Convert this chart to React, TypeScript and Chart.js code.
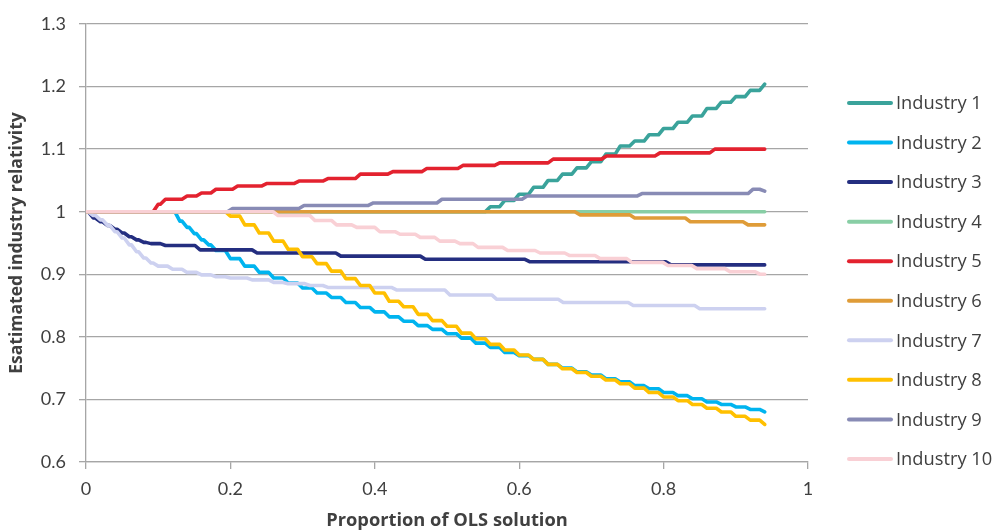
import React, { useEffect, useRef } from 'react';
import { Chart, registerables } from 'chart.js';

Chart.register(...registerables);

const seriesNames = [
  'Industry 1', 'Industry 2', 'Industry 3', 'Industry 4', 'Industry 5',
  'Industry 6', 'Industry 7', 'Industry 8', 'Industry 9', 'Industry 10',
];

const seriesColors = [
  '#3AA39B', '#00B4EF', '#242E80', '#88CEA5', '#E3222F',
  '#DF9C38', '#CDD1F0', '#FFC000', '#888BB5', '#F9D0D5',
];

const industry1: [number, number][] = [
  [0, 1], [0.54, 1], [0.56, 1.008], [0.58, 1.018], [0.6, 1.028], [0.62, 1.039],
  [0.64, 1.05], [0.66, 1.06], [0.68, 1.07], [0.7, 1.08], [0.72, 1.092], [0.74, 1.105],
  [0.76, 1.113], [0.78, 1.123], [0.8, 1.133], [0.82, 1.143], [0.84, 1.153], [0.86, 1.165],
  [0.88, 1.175], [0.9, 1.184], [0.92, 1.194], [0.94, 1.204],
];

const industry2: [number, number][] = [
  [0, 1], [0.115, 1], [0.13, 0.985], [0.14, 0.975], [0.15, 0.965], [0.16, 0.955],
  [0.17, 0.947], [0.18, 0.938], [0.2, 0.925], [0.22, 0.913], [0.24, 0.903], [0.26, 0.894],
  [0.28, 0.886], [0.3, 0.878], [0.32, 0.87], [0.34, 0.863], [0.36, 0.855], [0.38, 0.847],
  [0.4, 0.84], [0.42, 0.832], [0.44, 0.825], [0.46, 0.818], [0.48, 0.812], [0.5, 0.805],
  [0.52, 0.798], [0.54, 0.79], [0.56, 0.783], [0.58, 0.775], [0.6, 0.77], [0.62, 0.764],
  [0.64, 0.756], [0.66, 0.75], [0.68, 0.744], [0.7, 0.739], [0.72, 0.733], [0.74, 0.728],
  [0.76, 0.722], [0.78, 0.717], [0.8, 0.711], [0.82, 0.706], [0.84, 0.701], [0.86, 0.696],
  [0.88, 0.692], [0.9, 0.688], [0.92, 0.684], [0.94, 0.68],
];

const industry3: [number, number][] = [
  [0, 1], [0.01, 0.99], [0.02, 0.984], [0.03, 0.978], [0.04, 0.972], [0.05, 0.966],
  [0.06, 0.96], [0.07, 0.955], [0.08, 0.951], [0.09, 0.949], [0.11, 0.946], [0.158, 0.939],
  [0.237, 0.934], [0.353, 0.929], [0.47, 0.924], [0.615, 0.92], [0.81, 0.915], [0.94, 0.915],
];

const industry4: [number, number][] = [
  [0, 1], [0.94, 1],
];

const industry5: [number, number][] = [
  [0, 1], [0.09, 1], [0.1, 1.012], [0.11, 1.02], [0.14, 1.025], [0.16, 1.03],
  [0.18, 1.036], [0.21, 1.041], [0.25, 1.045], [0.295, 1.049], [0.335, 1.053], [0.38, 1.06],
  [0.425, 1.064], [0.472, 1.069], [0.522, 1.074], [0.573, 1.078], [0.647, 1.084],
  [0.721, 1.089], [0.795, 1.094], [0.871, 1.1], [0.94, 1.1],
];

const industry6: [number, number][] = [
  [0, 1], [0.684, 0.995], [0.76, 0.99], [0.837, 0.984], [0.917, 0.979], [0.94, 0.979],
];

const industry7: [number, number][] = [
  [0, 1], [0.01, 0.994], [0.02, 0.987], [0.03, 0.978], [0.04, 0.968], [0.05, 0.958],
  [0.06, 0.947], [0.07, 0.936], [0.08, 0.926], [0.09, 0.918], [0.1, 0.913], [0.12, 0.908],
  [0.14, 0.903], [0.16, 0.899], [0.18, 0.896], [0.2, 0.894], [0.23, 0.891], [0.26, 0.887],
  [0.28, 0.885], [0.31, 0.882], [0.335, 0.879], [0.43, 0.875], [0.504, 0.867], [0.569, 0.86],
  [0.661, 0.855], [0.758, 0.85], [0.85, 0.845], [0.94, 0.845],
];

const industry8: [number, number][] = [
  [0, 1], [0.19, 1], [0.2, 0.993], [0.22, 0.979], [0.24, 0.966], [0.26, 0.953],
  [0.28, 0.94], [0.3, 0.928], [0.32, 0.917], [0.34, 0.905], [0.36, 0.893], [0.38, 0.882],
  [0.4, 0.87], [0.42, 0.857], [0.44, 0.848], [0.46, 0.836], [0.48, 0.826], [0.5, 0.817],
  [0.52, 0.806], [0.54, 0.797], [0.56, 0.788], [0.58, 0.779], [0.6, 0.771], [0.62, 0.764],
  [0.64, 0.756], [0.66, 0.749], [0.68, 0.743], [0.7, 0.737], [0.72, 0.731], [0.74, 0.725],
  [0.76, 0.718], [0.78, 0.711], [0.8, 0.704], [0.82, 0.698], [0.84, 0.692], [0.86, 0.686],
  [0.88, 0.68], [0.9, 0.673], [0.92, 0.667], [0.94, 0.66],
];

const industry9: [number, number][] = [
  [0, 1], [0.203, 1.005], [0.302, 1.01], [0.398, 1.014], [0.493, 1.02], [0.611, 1.025],
  [0.77, 1.029], [0.924, 1.036], [0.94, 1.033],
];

const industry10: [number, number][] = [
  [0, 1], [0.266, 0.994], [0.317, 0.986], [0.347, 0.979], [0.375, 0.975], [0.407, 0.968],
  [0.435, 0.964], [0.463, 0.959], [0.49, 0.953], [0.518, 0.949], [0.543, 0.943],
  [0.584, 0.938], [0.629, 0.934], [0.67, 0.93], [0.712, 0.925], [0.756, 0.919],
  [0.806, 0.914], [0.846, 0.909], [0.892, 0.904], [0.934, 0.9], [0.94, 0.9],
];

const seriesData = [
  industry1, industry2, industry3, industry4, industry5,
  industry6, industry7, industry8, industry9, industry10,
];

const xTicks = [0, 0.2, 0.4, 0.6, 0.8, 1];
const yTicks = [0.6, 0.7, 0.8, 0.9, 1, 1.1, 1.2, 1.3];

const FONT = 'Lato, "Open Sans", sans-serif';
const WIDE_FONT = '"Open Sans", Lato, sans-serif';
const TEXT = '#404040';
const GRID = '#A6A6A6';

// Each value is held until its x, then a short slanted riser climbs to it (Excel-like steps).
const RISER = 0.007;
function slantedSteps(pts: [number, number][]) {
  const out: { x: number; y: number }[] = [];
  pts.forEach(([x, y], i) => {
    if (i > 0) {
      const [px, py] = pts[i - 1];
      if (y !== py && x - RISER > px) out.push({ x: x - RISER, y: py });
    }
    out.push({ x, y });
  });
  return out;
}

const sideLegend = {
  id: 'sideLegend',
  afterDraw(chart: any) {
    const ctx = chart.ctx as CanvasRenderingContext2D;
    ctx.save();
    chart.data.datasets.forEach((ds: any, i: number) => {
      const y = 103 + i * 39.55;
      ctx.strokeStyle = ds.borderColor;
      ctx.lineWidth = 4;
      ctx.lineCap = 'round';
      ctx.beginPath();
      ctx.moveTo(849, y);
      ctx.lineTo(891, y);
      ctx.stroke();
      ctx.fillStyle = TEXT;
      ctx.font = `18.3px ${WIDE_FONT}`;
      ctx.textBaseline = 'middle';
      ctx.textAlign = 'left';
      ctx.fillText(ds.label, 896, y + 1);
    });
    ctx.restore();
  },
};

const fmt = (v: number) => String(Number(Number(v).toFixed(2)));

export default function App() {
  const ref = useRef<HTMLCanvasElement | null>(null);

  useEffect(() => {
    if (!ref.current) return;
    const chart = new Chart(ref.current, {
      type: 'line',
      data: {
        datasets: seriesNames.map((name, i) => ({
          label: name,
          data: slantedSteps(seriesData[i]),
          borderColor: seriesColors[i],
          backgroundColor: seriesColors[i],
          borderWidth: 3.6,
          borderJoinStyle: 'round' as const,
          borderCapStyle: 'round' as const,
          pointRadius: 0,
          tension: 0,
          fill: false,
          order: seriesNames.length - i,
        })),
      },
      options: {
        responsive: false,
        animation: false,
        layout: { padding: { left: 0, top: 24, right: 190, bottom: 0 } },
        plugins: {
          legend: { display: false },
          tooltip: { enabled: false },
        },
        scales: {
          x: {
            type: 'linear',
            min: 0,
            max: 1,
            afterBuildTicks: (s: any) => { s.ticks = xTicks.map((v) => ({ value: v })); },
            afterFit: (s: any) => { s.height = 70; },
            ticks: {
              callback: (v: any) => fmt(v),
              color: TEXT,
              font: { family: FONT, size: 18 },
              padding: 9,
              maxRotation: 0,
            },
            grid: {
              display: true,
              drawOnChartArea: false,
              drawTicks: true,
              tickLength: 7,
              color: GRID,
              lineWidth: 1.3,
            },
            border: { display: true, color: GRID, width: 1.3 },
            title: {
              display: true,
              text: 'Proportion of OLS solution',
              color: TEXT,
              font: { family: WIDE_FONT, size: 18.3, weight: 'bold' },
              padding: { top: 0, bottom: 0 },
            },
          },
          y: {
            type: 'linear',
            min: 0.6,
            max: 1.3,
            afterBuildTicks: (s: any) => { s.ticks = yTicks.map((v) => ({ value: v })); },
            afterFit: (s: any) => { s.width = 86; },
            ticks: {
              callback: (v: any) => fmt(v),
              color: TEXT,
              font: { family: FONT, size: 18 },
              padding: 13,
            },
            grid: {
              color: GRID,
              lineWidth: 1.3,
              drawTicks: true,
              tickLength: 7,
            },
            border: { display: true, color: GRID, width: 1.3 },
            title: {
              display: true,
              text: 'Esatimated industry relativity',
              color: TEXT,
              font: { family: WIDE_FONT, size: 17.5, weight: 'bold' },
              padding: { top: 7, bottom: 0 },
            },
          },
        },
      },
      plugins: [sideLegend],
    } as any);
    return () => chart.destroy();
  }, []);

  return (
    <div style={{ position: 'absolute', left: 0, top: 0, width: 998, height: 532, background: '#fff' }}>
      <canvas ref={ref} width={998} height={532} />
    </div>
  );
}
